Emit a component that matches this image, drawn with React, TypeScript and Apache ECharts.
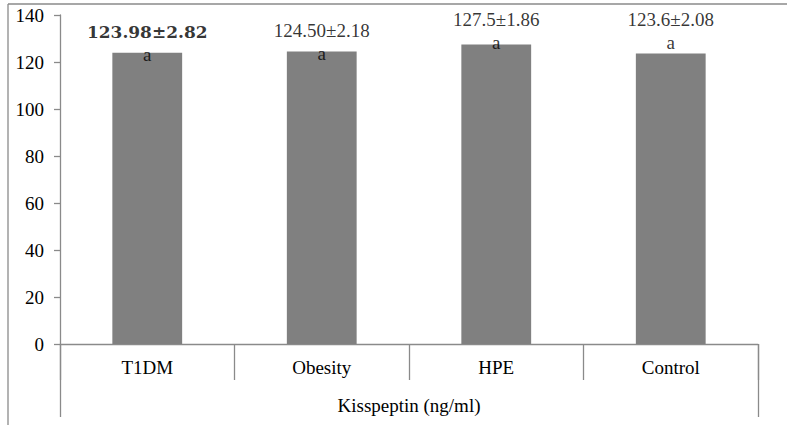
import React, { useEffect, useRef } from "react";
import * as echarts from "echarts";

const categories = ["T1DM", "Obesity", "HPE", "Control"];
const means = [123.98, 124.5, 127.5, 123.6];
const meanLabels = ["123.98±2.82", "124.50±2.18", "127.5±1.86", "123.6±2.08"];
const letters = ["a", "a", "a", "a"];
// where the annotation texts sit, in axis units
const meanLabelAt = [132.8, 133.6, 137.9, 137.9];
const letterAt = [123.0, 123.8, 128.1, 128.1];
const axisTitle = "Kisspeptin (ng/ml)";
const yMin = 0;
const yMax = 140;
const yStep = 20;

const FONT = "'Liberation Serif', 'Times New Roman', serif";
const GRAY = "#8a8a8a";

export default function App() {
  const ref = useRef<HTMLDivElement>(null);
  useEffect(() => {
    document.body.style.margin = "0";
    const chart = echarts.init(ref.current!, null, { renderer: "svg" });
    chart.setOption({
      animation: false,
      backgroundColor: "#fff",
      grid: { left: 60, right: 29, top: 15, bottom: 81, containLabel: false },
      xAxis: [
        {
          type: "category",
          data: categories,
          position: "bottom",
          axisLine: { show: true, lineStyle: { color: GRAY, width: 1.3 } },
          axisTick: { show: true, length: 36, alignWithLabel: false, lineStyle: { color: GRAY, width: 1.3 } },
          axisLabel: { color: "#000", fontFamily: FONT, fontSize: 19, margin: 14 },
        },
        {
          type: "category",
          data: [axisTitle],
          position: "bottom",
          offset: 0,
          axisLine: { show: false },
          axisTick: { show: true, length: 73, alignWithLabel: false, lineStyle: { color: GRAY, width: 1.3 } },
          axisLabel: { color: "#000", fontFamily: FONT, fontSize: 19, margin: 52 },
        },
      ],
      yAxis: {
        type: "value",
        min: yMin,
        max: yMax,
        interval: yStep,
        axisLine: { show: true, lineStyle: { color: GRAY, width: 1.3 } },
        axisTick: { show: true, length: 6, lineStyle: { color: GRAY, width: 1.3 } },
        splitLine: { show: false },
        axisLabel: { color: "#000", fontFamily: FONT, fontSize: 19, margin: 16 },
      },
      graphic: [
        { type: "line", shape: { x1: 8, y1: 4, x2: 787, y2: 4 }, style: { stroke: GRAY, lineWidth: 1.3 } },
        { type: "line", shape: { x1: 8, y1: 4, x2: 8, y2: 425 }, style: { stroke: GRAY, lineWidth: 1.3 } },
      ],
      series: [
        {
          type: "bar",
          data: means,
          barWidth: "40%",
          itemStyle: { color: "#808080" },
          z: 2,
        },
        {
          type: "scatter",
          data: meanLabelAt.map((v, i) => ({
            value: [categories[i], v],
            label:
              i === 0
                ? { fontFamily: "'DejaVu Serif', serif", fontWeight: "bold", fontSize: 17 }
                : {},
          })),
          symbolSize: 1,
          itemStyle: { color: "transparent" },
          label: {
            show: true,
            position: "inside",
            color: "#000",
            fontFamily: FONT,
            fontSize: 19,
            formatter: (p: any) => meanLabels[p.dataIndex],
          },
          z: 5,
          silent: true,
        },
        {
          type: "scatter",
          data: letterAt.map((v, i) => [categories[i], v]),
          symbolSize: 1,
          itemStyle: { color: "transparent" },
          label: {
            show: true,
            position: "inside",
            color: "#000",
            fontFamily: FONT,
            fontSize: 19,
            formatter: (p: any) => letters[p.dataIndex],
          },
          z: 5,
          silent: true,
        },
      ],
    });
    return () => chart.dispose();
  }, []);
  return (
    <div
      ref={ref}
      style={{ position: "absolute", left: 0, top: 0, width: 787, height: 425 }}
    />
  );
}
